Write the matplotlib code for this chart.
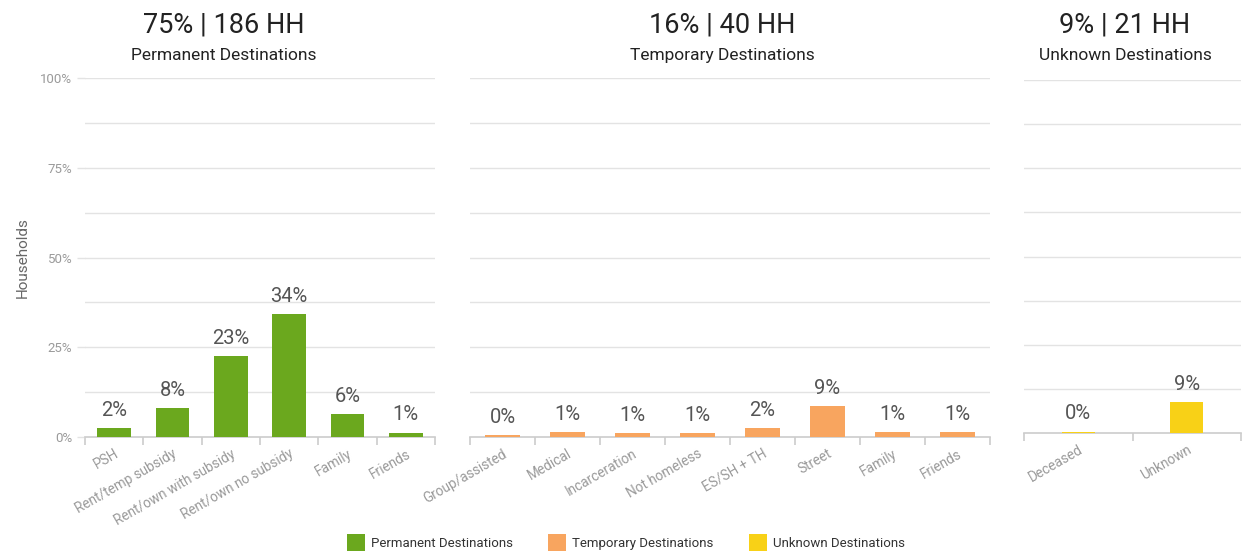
import matplotlib
matplotlib.use("Agg")
import matplotlib.pyplot as plt
from matplotlib.patches import Patch

plt.rcParams['font.family'] = ['Roboto', 'DejaVu Sans']

# ---- data ----
perm_cats = ["PSH", "Rent/temp subsidy", "Rent/own with subsidy", "Rent/own no subsidy", "Family", "Friends"]
perm_vals = [2.4, 8.1, 22.6, 34.3, 6.4, 1.2]
temp_cats = ["Group/assisted", "Medical", "Incarceration", "Not homeless", "ES/SH + TH", "Street", "Family", "Friends"]
temp_vals = [0.5, 1.3, 1.0, 1.0, 2.4, 8.6, 1.3, 1.3]
unk_cats = ["Deceased", "Unknown"]
unk_vals = [0.4, 8.8]

group_names = ["Permanent Destinations", "Temporary Destinations", "Unknown Destinations"]
group_titles = ["75% | 186 HH", "16% | 40 HH", "9% | 21 HH"]
group_colors = ["#6BA81E", "#F8A55F", "#F8D117"]
y_ticks = [0, 25, 50, 75, 100]
y_ticklabels = ["0%", "25%", "50%", "75%", "100%"]

W, H = 1248, 551
fig = plt.figure(figsize=(W / 100, H / 100), dpi=100)

def fx(px):
    return px / W

def fy(py):
    return 1 - py / H

panels = [
    (perm_cats, perm_vals, (85, 435, 78, 437), 0.58, 224),
    (temp_cats, temp_vals, (470, 990, 78, 437), 0.54, 722),
    (unk_cats, unk_vals, (1024, 1241, 80, 433), 0.30, 1125),
]

for i, (cats, vals, (x0, x1, y0, y1), bw, tcx) in enumerate(panels):
    ax = fig.add_axes([fx(x0), fy(y1), fx(x1 - x0), (y1 - y0) / H])
    n = len(cats)
    xs = list(range(n))
    ax.bar(xs, vals, width=bw, color=group_colors[i], edgecolor="none", zorder=3)
    for x, v in zip(xs, vals):
        ax.annotate(f"{v:.0f}%", (x, v), xytext=(0, 6), textcoords="offset points",
                    ha="center", va="bottom", fontsize=14.5, color="#555555")
    ax.set_xlim(-0.5, n - 0.5)
    ax.set_ylim(0, 100)
    for g in [12.5 * k for k in range(1, 9)]:
        ax.axhline(g, color="#e3e3e3", linewidth=1.0, zorder=1)
    for s in ["top", "right", "left"]:
        ax.spines[s].set_visible(False)
    ax.spines["bottom"].set_color("#cccccc")
    ax.spines["bottom"].set_linewidth(1.2)
    ax.set_xticks(xs)
    ax.set_xticklabels(cats, rotation=30, ha="right", rotation_mode="anchor",
                       fontsize=9.8, color="#9a9a9a")
    ax.tick_params(axis="x", which="major", length=0, pad=7)
    ax.set_xticks([k - 0.5 for k in range(n + 1)], minor=True)
    ax.tick_params(axis="x", which="minor", length=6, color="#cccccc", width=1.2)
    if i == 0:
        ax.set_yticks(y_ticks)
        ax.set_yticklabels(y_ticklabels, fontsize=9.5, color="#9a9a9a")
        ax.tick_params(axis="y", length=6, width=1.0, color="#e3e3e3", pad=3)
        ax.set_ylabel("Households", fontsize=11, color="#666666", labelpad=8)
    else:
        ax.set_yticks([])
    ax.set_facecolor("none")
    fig.text(fx(tcx), fy(25), group_titles[i], ha="center", va="center", fontsize=19.5, color="#222222")
    fig.text(fx(tcx), fy(55.5), group_names[i], ha="center", va="center", fontsize=12.5, color="#222222")

handles = [Patch(facecolor=c, edgecolor="none") for c in group_colors]
fig.legend(handles, group_names, loc="center", bbox_to_anchor=(fx(626), fy(543)), ncol=3,
           frameon=False, fontsize=9.5, handlelength=1.36, handleheight=1.7,
           handletextpad=0.45, columnspacing=2.7, labelcolor="#333333")

fig.savefig("out.png", dpi=100)
